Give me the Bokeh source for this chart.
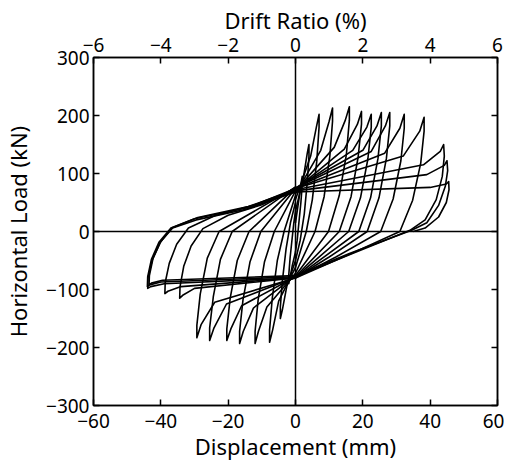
from bokeh.plotting import figure
from bokeh.models import LinearAxis, Range1d, FixedTicker, Span, CustomJSTickFormatter
from bokeh.embed import file_html
from bokeh.resources import INLINE

# ---- data: hysteresis loops (displacement mm, load kN) ----
loop_x = [
    [0, 1.0, 1.7, 2, 2, 1.6, 1.0, 0.5, 0, -1.0, -1.7, -2, -2, -1.6, -1.0, -0.5, 0],
    [0, 2.4, 3.5, 4, 4, 3.5, 2.6, 1.4, 0, -2.6, -3.9, -4.5, -4.5, -3.9, -2.8, -1.5, 0],
    [0, 4.5, 6.2, 7, 7, 6.3, 5, 3.2, 0, -5, -6.8, -7.7, -7.7, -6.9, -5.4, -3.4, 0],
    [0, 7.5, 10, 11, 11, 10.2, 8.5, 5.8, 0, -8.5, -11, -12, -12, -11.1, -9.2, -6.3, 0],
    [0, 11.5, 14.8, 16, 16, 15.1, 13, 9.8, 0, -12.5, -15.5, -16.6, -16.6, -15.6, -13.5, -10.3, 0],
    [0, 14.5, 18.4, 19.6, 19.6, 18.6, 16.5, 13, 0, -16, -19.2, -20.4, -20.4, -19.4, -17.3, -13.8, 0],
    [0, 17, 21.2, 22.5, 22.5, 21.5, 19.3, 15.8, 0, -20.5, -24.2, -25.5, -25.5, -24.4, -22.3, -18.8, 0],
    [0, 20, 24.2, 25.5, 25.5, 24.5, 22.3, 18.8, 0, -24, -28, -29.3, -29.3, -28.3, -26.2, -22.7, 0],
    [0, 22.5, 26.7, 28, 28, 27, 24.8, 21.3, 10, 0, -30, -33.5, -34.4, -34.3, -33.2, -31, -27.5, -20, -10, 0],
    [0, 26.5, 31, 32.3, 32.3, 31.3, 29, 25.3, 12, 0, -34, -37.9, -38.8, -38.7, -37.5, -35.3, -31.8, -24, -12, 0],
    [0, 32, 36.9, 38.2, 38.2, 37.2, 34.8, 31, 15, 0, -39, -43, -43.9, -43.8, -42.6, -40.3, -36.8, -29, -14, 0],
    [0, 38, 43, 44, 44.2, 43.6, 41.8, 38.5, 34, 16, 0, -40, -43.3, -44, -43.9, -42.8, -40.5, -37, -30, -15, 0],
    [0, 39, 44.2, 45, 45.2, 44.5, 42.5, 39, 34.5, 16, 0, -39.5, -42.8, -43.5, -43.4, -42.3, -40, -36.5, -29.5, -15, 0],
    [0, 40, 44.8, 45.5, 45.6, 44.8, 42.5, 38.5, 35],
]
loop_y = [
    [15, 55, 85, 95, 80, 50, 15, -15, -35, -60, -82, -90, -75, -45, -12, 15, 35],
    [35, 95, 135, 150, 130, 85, 30, -15, -50, -95, -135, -150, -130, -85, -30, 15, 50],
    [55, 130, 180, 202, 180, 120, 55, 0, -62, -120, -170, -191, -170, -115, -50, 0, 62],
    [65, 140, 190, 213, 190, 130, 60, 0, -72, -130, -172, -193, -172, -118, -52, 0, 70],
    [70, 145, 192, 215, 192, 132, 62, 0, -76, -132, -172, -193, -172, -118, -52, 0, 74],
    [72, 142, 185, 207, 185, 128, 60, 0, -78, -128, -168, -188, -168, -115, -50, 0, 76],
    [74, 140, 180, 202, 180, 125, 58, 0, -79, -125, -166, -188, -166, -112, -48, 0, 77],
    [75, 140, 182, 205, 182, 126, 58, 0, -80, -122, -160, -183, -162, -108, -46, 0, 76],
    [75, 138, 182, 205, 182, 126, 58, 0, -44, -80, -98, -110, -115, -95, -60, -25, 5, 28, 46, 74],
    [74, 135, 178, 202, 178, 122, 56, 0, -44, -80, -95, -103, -107, -88, -55, -22, 6, 27, 46, 74],
    [74, 130, 173, 197, 173, 118, 54, 0, -42, -80, -90, -95, -98, -80, -50, -20, 6, 24, 43, 72],
    [72, 115, 138, 150, 130, 95, 55, 20, 2, -40, -78, -87, -92, -95, -78, -48, -18, 6, 22, 40, 70],
    [70, 98, 114, 122, 105, 78, 45, 15, 2, -38, -76, -84, -89, -92, -76, -46, -17, 6, 20, 38, 68],
    [68, 76, 82, 86, 72, 50, 25, 6, 0],
]

x_ticks = [-60, -40, -20, 0, 20, 40, 60]
y_ticks = [-300, -200, -100, 0, 100, 200, 300]
drift_ticks = [-6, -4, -2, 0, 2, 4, 6]

FONT = "Noto Sans"

def minus(v):
    return str(v).replace("-", "\u2212")

p = figure(width=504, height=463, output_backend="svg", toolbar_location=None,
           x_range=Range1d(-60, 60), y_range=Range1d(-300, 300),
           min_border_left=92, min_border_right=7, min_border_top=57, min_border_bottom=54)
p.xgrid.visible = False
p.ygrid.visible = False
p.outline_line_color = "black"
p.outline_line_width = 1.5
p.background_fill_color = "white"
p.border_fill_color = "white"

def style_axis(ax, ticks, label):
    ax.ticker = FixedTicker(ticks=ticks)
    ax.major_label_overrides = {t: minus(t) for t in ticks}
    ax.axis_label = label
    ax.axis_label_text_font = FONT
    ax.axis_label_text_font_size = "22px"
    ax.axis_label_text_font_style = "normal"
    ax.axis_label_text_color = "black"
    ax.major_label_text_font = FONT
    ax.major_label_text_font_size = "19px"
    ax.major_label_text_color = "black"
    ax.major_tick_in = 6
    ax.major_tick_out = 0
    ax.minor_tick_in = 0
    ax.minor_tick_out = 0
    ax.axis_line_color = "black"
    ax.axis_line_width = 1.5
    ax.major_tick_line_color = "black"
    ax.major_tick_line_width = 1.5

style_axis(p.xaxis[0], x_ticks, "Displacement (mm)")
p.xaxis[0].major_label_standoff = 8
p.xaxis[0].axis_label_standoff = 0
style_axis(p.yaxis[0], y_ticks, "Horizontal Load (kN)")
p.yaxis[0].major_label_standoff = 4
p.yaxis[0].axis_label_standoff = 10

p.extra_x_ranges = {"drift": Range1d(-6, 6)}
top = LinearAxis(x_range_name="drift")
style_axis(top, drift_ticks, "Drift Ratio (%)")
top.major_label_standoff = 6
top.axis_label_standoff = 0
p.add_layout(top, "above")

right = LinearAxis()
style_axis(right, y_ticks, "")
right.axis_label = None
right.formatter = CustomJSTickFormatter(code="return ''")
right.major_label_overrides = {}
right.major_label_standoff = 0
p.add_layout(right, "right")

p.add_layout(Span(location=0, dimension="height", line_color="black", line_width=1.5))
p.add_layout(Span(location=0, dimension="width", line_color="black", line_width=1.5))

p.multi_line(xs=loop_x, ys=loop_y, line_color="black", line_width=1.6, line_join="round")

open("out.html", "w").write(file_html(p, INLINE))
